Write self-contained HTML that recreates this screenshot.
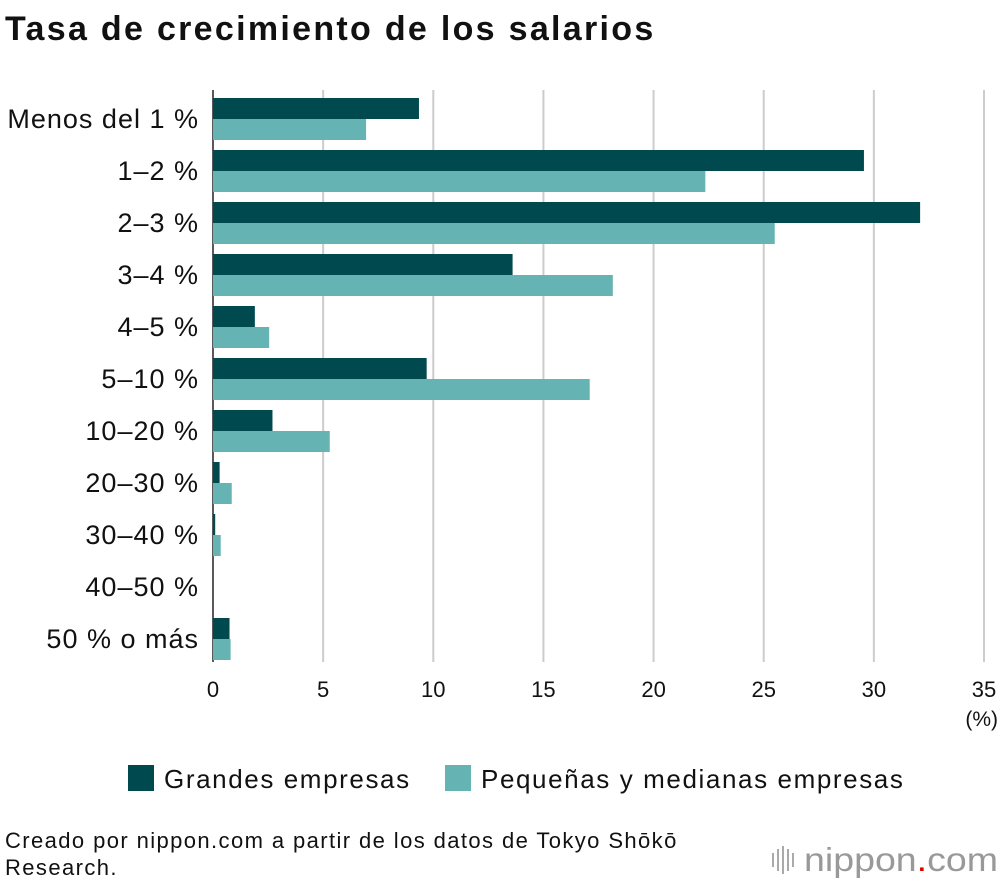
<!DOCTYPE html>
<html><head><meta charset="utf-8"><style>
body{margin:0;background:#fff;font-family:"Liberation Sans",sans-serif;}
svg text{font-family:"Liberation Sans",sans-serif;}
</style></head><body>
<svg id="c" width="1000" height="884" xmlns="http://www.w3.org/2000/svg">
<text x="5" y="40" font-size="34" font-weight="bold" fill="#111" letter-spacing="2.3">Tasa de crecimiento de los salarios</text>
<g id="grid"></g><g id="bars"></g><g id="labels"></g>
<text x="998" y="726" font-size="21" text-anchor="end" fill="#111">(%)</text>
<rect x="128" y="765" width="26" height="26" fill="#004a4f"/>
<text x="164" y="788" font-size="26" letter-spacing="1.6" fill="#111">Grandes empresas</text>
<rect x="445" y="765" width="26" height="26" fill="#66b3b3"/>
<text x="481" y="788" font-size="26" letter-spacing="1.6" fill="#111">Pequeñas y medianas empresas</text>
<text x="5" y="848" font-size="22" letter-spacing="1.4" fill="#111">Creado por nippon.com a partir de los datos de Tokyo Shōkō</text>
<text x="5" y="875" font-size="22" letter-spacing="1.4" fill="#111">Research.</text>
<g>
<rect x="772" y="853" width="2" height="14" fill="#aaa"/><rect x="777" y="849" width="2" height="22" fill="#aaa"/><rect x="782" y="846" width="2" height="28" fill="#aaa"/><rect x="787" y="849" width="2" height="22" fill="#aaa"/><rect x="792" y="853" width="2" height="14" fill="#aaa"/>
<text x="804" y="871" font-size="33" fill="#999" textLength="194" lengthAdjust="spacingAndGlyphs">nippon<tspan fill="#d00">.</tspan>com</text>
</g>
</svg>
<script>
const categories=["Menos del 1 %","1–2 %","2–3 %","3–4 %","4–5 %","5–10 %","10–20 %","20–30 %","30–40 %","40–50 %","50 % o más"];
const largeValues=[9.35,29.55,32.1,13.6,1.9,9.7,2.7,0.3,0.1,0,0.75];
const smeValues=[6.95,22.35,25.5,18.15,2.55,17.1,5.3,0.85,0.35,0,0.8];
const ticks=[0,5,10,15,20,25,30,35];
const NS="http://www.w3.org/2000/svg";
const x0=213,x1=984,xmax=35,top0=98,rowH=52,barH=21;
const xs=v=>x0+v/xmax*(x1-x0);
function mk(t,a,p){const e=document.createElementNS(NS,t);for(const k in a)e.setAttribute(k,a[k]);p.appendChild(e);return e;}
const g=document.getElementById('grid'),b=document.getElementById('bars'),l=document.getElementById('labels');
ticks.forEach(t=>{
 const ln=mk('line',{x1:xs(t),x2:xs(t),y1:90,y2:662,stroke:t===0?'#222':'#ccc','stroke-width':t===0?1.5:2},g);
 
 
 const tx=mk('text',{x:xs(t),y:697,'font-size':22,'text-anchor':'middle',fill:'#111'},l);
 tx.textContent=t;
 
 
});
categories.forEach((c,i)=>{
 const y=top0+i*rowH;
 const r1=mk('rect',{x:x0,y:y,width:xs(largeValues[i])-x0,height:barH,fill:'#004a4f'},b);
 
 
 const r2=mk('rect',{x:x0,y:y+barH,width:xs(smeValues[i])-x0,height:barH,fill:'#66b3b3'},b);
 
 
 const tx=mk('text',{x:199,y:y+barH+9,'font-size':27,'letter-spacing':1,'text-anchor':'end',fill:'#111'},l);
 tx.textContent=c;
 
 
});
</script>
</body></html>
